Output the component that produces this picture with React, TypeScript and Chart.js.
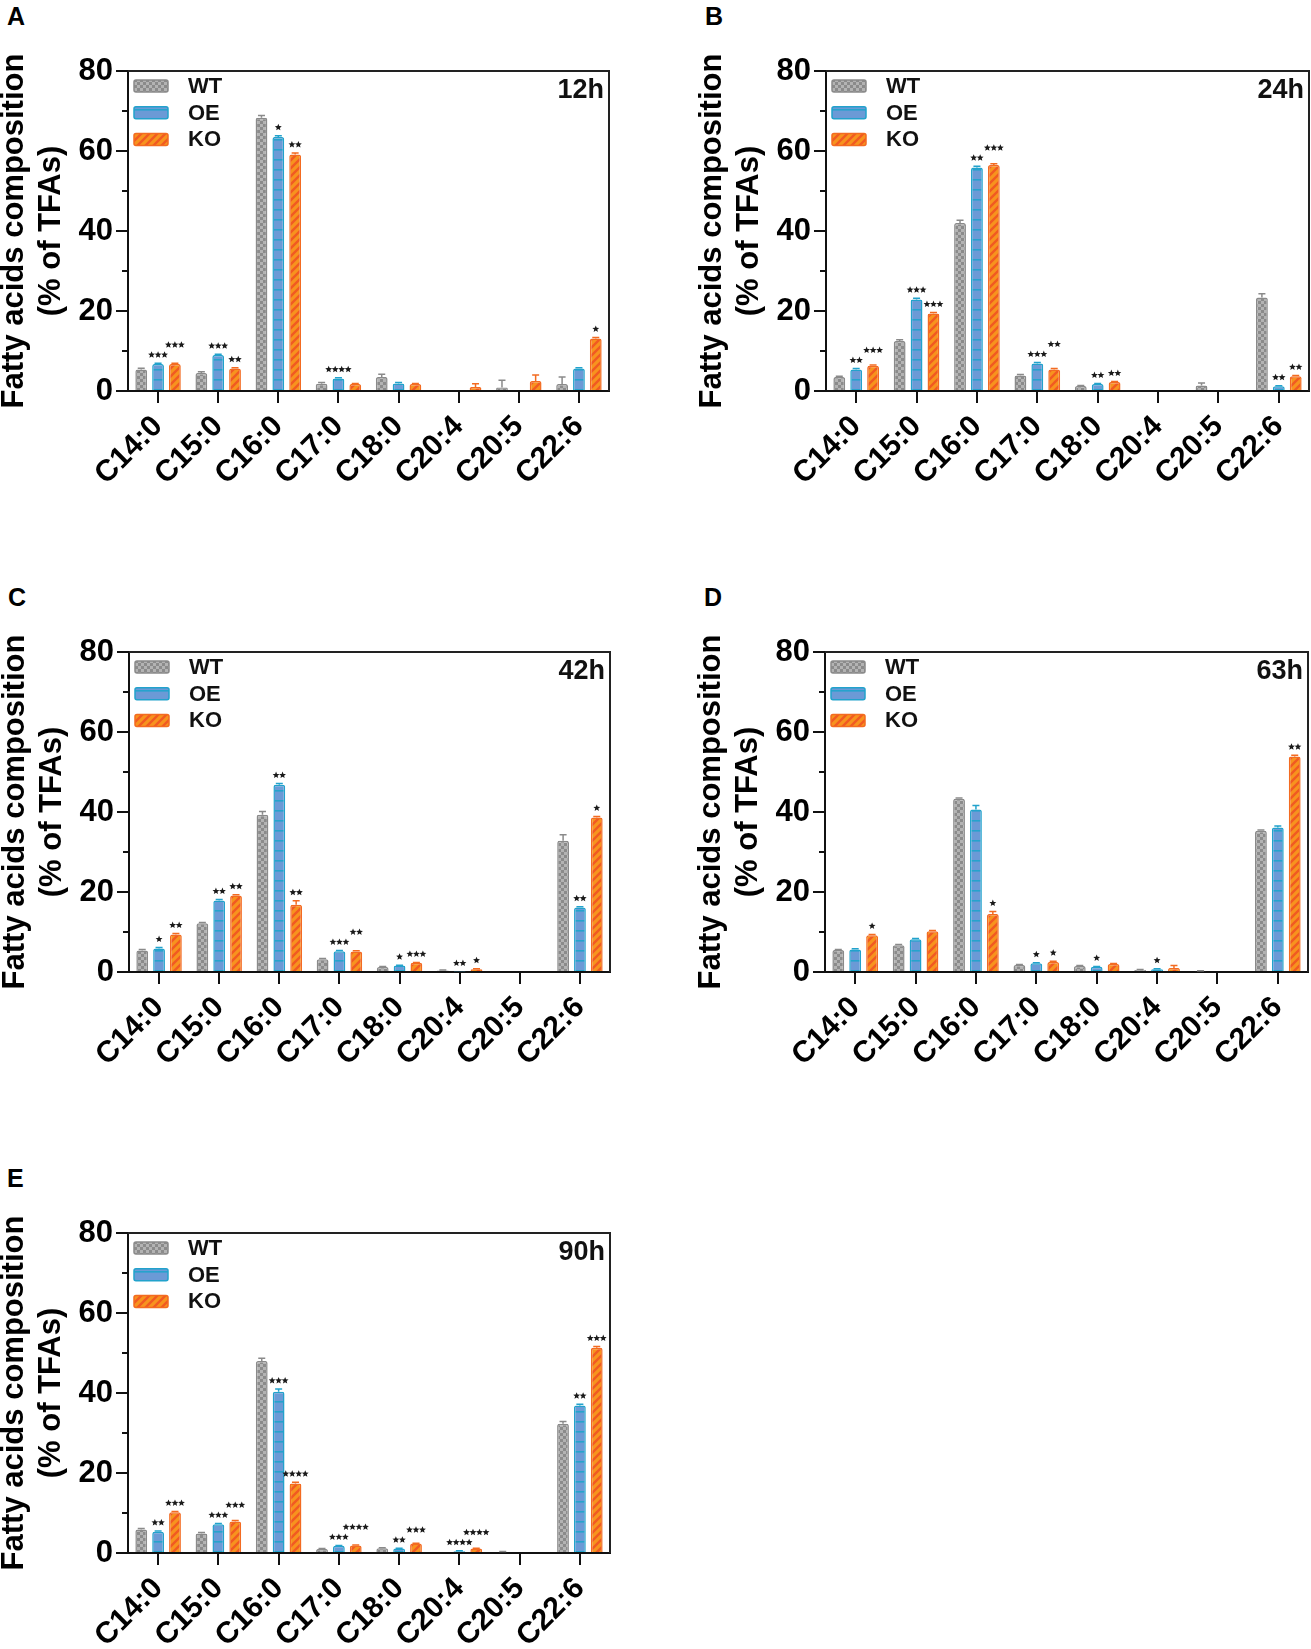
import React, { useEffect, useRef } from 'react';
import { Chart, registerables } from 'chart.js';

Chart.register(...registerables);

const categories = ['C14:0', 'C15:0', 'C16:0', 'C17:0', 'C18:0', 'C20:4', 'C20:5', 'C22:6'];
const seriesNames = ['WT', 'OE', 'KO'];
const yTicks = [0, 20, 40, 60, 80];
const minorTicks = [10, 30, 50, 70];

// 12h
const wt12 = [5.4, 4.5, 68.3, 1.8, 3.5, 0, 0.9, 1.75];
const wt12Err = [0.3, 0.3, 0.6, 0.3, 0.7, 0, 1.8, 1.75];
const oe12 = [6.75, 9.0, 63.5, 3.1, 1.9, 0, 0, 5.6];
const oe12Err = [0.2, 0.2, 0.3, 0.2, 0.2, 0, 0, 0.2];
const ko12 = [6.75, 5.6, 59.1, 1.75, 1.75, 1.0, 2.5, 13.1];
const ko12Err = [0.2, 0.2, 0.4, 0.1, 0.1, 0.8, 1.5, 0.3];
const oe12Stars = ['***', '***', '*', '****', '', '', '', ''];
const ko12Stars = ['***', '**', '**', '', '', '', '', '*'];

// 24h
const wt24 = [3.5, 12.5, 42.0, 3.9, 1.25, 0, 1.4, 23.4];
const wt24Err = [0.2, 0.3, 0.7, 0.2, 0.1, 0, 0.6, 0.9];
const oe24 = [5.4, 22.9, 55.9, 6.9, 1.75, 0, 0, 1.2];
const oe24Err = [0.2, 0.3, 0.3, 0.2, 0.1, 0, 0, 0.1];
const ko24 = [6.3, 19.4, 56.5, 5.4, 2.25, 0, 0, 3.7];
const ko24Err = [0.2, 0.2, 0.3, 0.2, 0.1, 0, 0, 0.2];
const oe24Stars = ['**', '***', '**', '***', '**', '', '', '**'];
const ko24Stars = ['***', '***', '***', '**', '**', '', '', '**'];

// 42h
const wt42 = [5.4, 12.2, 39.3, 3.2, 1.25, 0.4, 0, 32.8];
const wt42Err = [0.2, 0.2, 0.8, 0.2, 0.1, 0.1, 0, 1.5];
const oe42 = [5.9, 17.9, 46.8, 5.2, 1.6, 0.1, 0, 16.1];
const oe42Err = [0.2, 0.2, 0.3, 0.2, 0.1, 0, 0, 0.2];
const ko42 = [9.4, 19.1, 16.8, 5.1, 2.3, 0.7, 0, 38.6];
const ko42Err = [0.2, 0.2, 1.0, 0.2, 0.1, 0.1, 0, 0.3];
const oe42Stars = ['*', '**', '**', '***', '*', '**', '', '**'];
const ko42Stars = ['**', '**', '**', '**', '***', '*', '', '*'];

// 63h
const wt63 = [5.5, 6.7, 43.3, 1.75, 1.5, 0.5, 0.2, 35.3];
const wt63Err = [0.1, 0.2, 0.2, 0.1, 0.1, 0.1, 0.1, 0.2];
const oe63 = [5.6, 8.2, 40.6, 2.2, 1.3, 0.7, 0, 36.1];
const oe63Err = [0.2, 0.2, 1.0, 0.1, 0.1, 0.1, 0, 0.4];
const ko63 = [9.2, 10.2, 14.5, 2.5, 2.0, 1.0, 0, 53.9];
const ko63Err = [0.2, 0.2, 0.6, 0.2, 0.1, 0.6, 0, 0.3];
const oe63Stars = ['', '', '', '*', '*', '*', '', ''];
const ko63Stars = ['*', '', '*', '*', '', '', '', '**'];

// 90h
const wt90 = [5.9, 4.9, 48.0, 1.0, 1.2, 0, 0.25, 32.3];
const wt90Err = [0.2, 0.2, 0.7, 0.1, 0.1, 0, 0.1, 0.6];
const oe90 = [5.3, 7.2, 40.3, 1.8, 1.1, 0.45, 0, 36.9];
const oe90Err = [0.2, 0.2, 0.7, 0.1, 0.1, 0.1, 0, 0.3];
const ko90 = [10.2, 7.9, 17.4, 1.9, 2.35, 1.1, 0, 51.3];
const ko90Err = [0.2, 0.2, 0.3, 0.1, 0.1, 0.1, 0, 0.3];
const oe90Stars = ['**', '***', '***', '***', '**', '****', '', '**'];
const ko90Stars = ['***', '***', '****', '****', '***', '****', '', '***'];

const FONT = '"Liberation Sans", Arial, sans-serif';
const AXIS_W = 132;
const PAD_TOP = 40;
const X_AXIS_H = 130;
const PLOT_H = 320;
const STAR_STEP = 6.5;

function makePattern(kind: string) {
  const c = document.createElement('canvas');
  const ctx = c.getContext('2d')!;
  if (kind === 'WT') {
    c.width = 6; c.height = 6;
    ctx.fillStyle = '#b3b3b3';
    ctx.fillRect(0, 0, 6, 6);
    ctx.fillStyle = '#8b8b8b';
    ctx.fillRect(0, 0, 3, 3);
    ctx.fillRect(3, 3, 3, 3);
  } else if (kind === 'OE') {
    c.width = 10; c.height = 10;
    ctx.fillStyle = '#6b9ad6';
    ctx.fillRect(0, 0, 10, 10);
    ctx.fillStyle = '#26a3cd';
    ctx.fillRect(0, 8, 10, 1.6);
  } else {
    c.width = 8; c.height = 8;
    ctx.fillStyle = '#f7931e';
    ctx.fillRect(0, 0, 8, 8);
    ctx.strokeStyle = '#f15a22';
    ctx.lineWidth = 2.4;
    ctx.beginPath();
    ctx.moveTo(-1, 9); ctx.lineTo(9, -1);
    ctx.moveTo(-5, 5); ctx.lineTo(5, -5);
    ctx.moveTo(3, 13); ctx.lineTo(13, 3);
    ctx.stroke();
  }
  return ctx.createPattern(c, 'repeat')!;
}

const borderColors = ['#8a8a8a', '#22a2cc', '#f36b21'];

function drawStar(ctx: CanvasRenderingContext2D, cx: number, cy: number, r: number) {
  ctx.beginPath();
  for (let k = 0; k < 10; k++) {
    const rr = k % 2 === 0 ? r : r * 0.45;
    const ang = -Math.PI / 2 + (k * Math.PI) / 5;
    const px = cx + rr * Math.cos(ang);
    const py = cy + rr * Math.sin(ang);
    if (k === 0) ctx.moveTo(px, py);
    else ctx.lineTo(px, py);
  }
  ctx.closePath();
  ctx.fill();
}

const decor = {
  id: 'decor',
  afterDatasetsDraw(chart: any, _args: any, opts: any) {
    const { ctx, chartArea: a, scales } = chart;
    const y = scales.y;
    ctx.save();
    // top and right frame
    ctx.strokeStyle = '#222';
    ctx.lineWidth = 2;
    ctx.beginPath();
    ctx.moveTo(a.left, a.top);
    ctx.lineTo(a.right, a.top);
    ctx.lineTo(a.right, a.bottom);
    ctx.stroke();
    // minor ticks
    ctx.strokeStyle = '#111';
    ctx.beginPath();
    minorTicks.forEach((v) => {
      const py = y.getPixelForValue(v);
      ctx.moveTo(a.left - 6, py);
      ctx.lineTo(a.left, py);
    });
    ctx.stroke();

    // error bars, and star groups (lifted when they would collide)
    const placed: { x0: number; x1: number; top: number; bottom: number }[][] = categories.map(() => []);
    chart.data.datasets.forEach((ds: any, di: number) => {
      const meta = chart.getDatasetMeta(di);
      meta.data.forEach((bar: any, i: number) => {
        const v = ds.data[i];
        const e = ds.errors[i] || 0;
        let topPx = y.getPixelForValue(v);
        if (e > 0) {
          const ey = y.getPixelForValue(v + e);
          ctx.strokeStyle = borderColors[di];
          ctx.lineWidth = 1.5;
          ctx.beginPath();
          ctx.moveTo(bar.x, topPx);
          ctx.lineTo(bar.x, ey);
          ctx.moveTo(bar.x - 3.5, ey);
          ctx.lineTo(bar.x + 3.5, ey);
          ctx.stroke();
          topPx = ey;
        }
        const s = ds.stars ? ds.stars[i] : '';
        if (!s) return;
        const n = s.length;
        const w = n * STAR_STEP;
        const x0 = bar.x - w / 2;
        let bottom = topPx - 5;
        placed[i].forEach((b) => {
          const hOverlap = x0 < b.x1 + 2 && x0 + w > b.x0 - 2;
          const vOverlap = bottom > b.top - 2 && bottom - 7 < b.bottom + 2;
          if (hOverlap && vOverlap) bottom = b.top - 3;
        });
        const top = bottom - 7;
        placed[i].push({ x0, x1: x0 + w, top, bottom });
        ctx.fillStyle = '#1a1a1a';
        for (let k = 0; k < n; k++) drawStar(ctx, x0 + STAR_STEP * (k + 0.5), bottom - 3.4, 3.6);
      });
    });

    // legend
    chart.data.datasets.forEach((ds: any, di: number) => {
      const lx = a.left + 6;
      const ly = a.top + 9 + di * 26.7;
      ctx.fillStyle = ds.backgroundColor;
      ctx.strokeStyle = borderColors[di];
      ctx.lineWidth = 1.5;
      ctx.beginPath();
      ctx.roundRect(lx, ly, 34, 12, 2);
      ctx.fill();
      ctx.stroke();
      ctx.fillStyle = '#111';
      ctx.font = `bold 22px ${FONT}`;
      ctx.textAlign = 'left';
      ctx.textBaseline = 'middle';
      ctx.fillText(ds.label, a.left + 60, ly + 7);
    });

    // time label
    ctx.fillStyle = '#111';
    ctx.font = `bold 27px ${FONT}`;
    ctx.textAlign = 'right';
    ctx.textBaseline = 'alphabetic';
    ctx.fillText(opts.time, a.right - 5, a.top + 27);
    ctx.restore();
  },
};

type PanelProps = {
  letter: string;
  time: string;
  left: number;
  right: number;
  top: number;
  wt: number[]; wtErr: number[];
  oe: number[]; oeErr: number[];
  ko: number[]; koErr: number[];
  oeStars: string[]; koStars: string[];
};

function Panel(p: PanelProps) {
  const canvasRef = useRef<HTMLCanvasElement>(null);
  const chartRef = useRef<Chart | null>(null);
  const cLeft = p.left - AXIS_W;
  const cTop = p.top - PAD_TOP;
  const cW = p.right - p.left + AXIS_W + 3;
  const cH = PAD_TOP + PLOT_H + X_AXIS_H;

  useEffect(() => {
    if (!canvasRef.current) return;
    const ctx = canvasRef.current.getContext('2d');
    if (!ctx) return;
    if (chartRef.current) chartRef.current.destroy();

    chartRef.current = new Chart(ctx, {
      type: 'bar',
      data: {
        labels: categories,
        datasets: [
          { label: seriesNames[0], data: p.wt, errors: p.wtErr, stars: null, backgroundColor: makePattern('WT'), borderColor: borderColors[0], borderWidth: 1.5, borderRadius: 2, borderSkipped: 'bottom' },
          { label: seriesNames[1], data: p.oe, errors: p.oeErr, stars: p.oeStars, backgroundColor: makePattern('OE'), borderColor: borderColors[1], borderWidth: 1.5, borderRadius: 2, borderSkipped: 'bottom' },
          { label: seriesNames[2], data: p.ko, errors: p.koErr, stars: p.koStars, backgroundColor: makePattern('KO'), borderColor: borderColors[2], borderWidth: 1.5, borderRadius: 2, borderSkipped: 'bottom' },
        ] as any,
      },
      options: {
        animation: false,
        responsive: false,
        events: [],
        layout: { padding: { top: PAD_TOP, right: 3, left: 0, bottom: 0 } },
        datasets: { bar: { categoryPercentage: 0.84, barPercentage: 0.7 } },
        scales: {
          x: {
            grid: { offset: false, drawOnChartArea: false, tickLength: 12, lineWidth: 2, color: '#111' },
            border: { color: '#111', width: 2 },
            ticks: { autoSkip: false, maxRotation: 45, minRotation: 45, color: '#000', padding: 6, font: { family: FONT, size: 30, weight: 'bold' } },
            afterFit: (s: any) => { s.height = X_AXIS_H; },
          },
          y: {
            min: 0,
            max: 80,
            afterBuildTicks: (s: any) => { s.ticks = yTicks.map((v) => ({ value: v })); },
            grid: { drawOnChartArea: false, tickLength: 12, lineWidth: 2, color: '#111' },
            border: { color: '#111', width: 2 },
            ticks: { color: '#000', padding: 3, font: { family: FONT, size: 31, weight: 'bold' } },
            title: {
              display: true,
              text: ['Fatty acids composition', '(% of TFAs)'],
              color: '#000',
              padding: 0,
              font: { family: FONT, size: 31, weight: 'bold', lineHeight: 1.2 },
            },
            afterFit: (s: any) => { s.width = AXIS_W; },
          },
        },
        plugins: {
          legend: { display: false },
          tooltip: { enabled: false },
          decor: { time: p.time },
        } as any,
      },
      plugins: [decor],
    });

    return () => {
      if (chartRef.current) chartRef.current.destroy();
      chartRef.current = null;
    };
  }, []);

  return (
    <>
      <div style={{ position: 'absolute', left: p.left - 121, top: p.top - 67, fontFamily: FONT, fontWeight: 'bold', fontSize: 25, lineHeight: '25px', color: '#000' }}>{p.letter}</div>
      <canvas ref={canvasRef} width={cW} height={cH} style={{ position: 'absolute', left: cLeft, top: cTop, width: cW, height: cH }} />
    </>
  );
}

export default function App() {
  return (
    <div style={{ position: 'absolute', left: 0, top: 0, width: 1311, height: 1649, overflow: 'hidden', background: '#fff' }}>
      <Panel letter="A" time="12h" left={128} right={609} top={71} wt={wt12} wtErr={wt12Err} oe={oe12} oeErr={oe12Err} ko={ko12} koErr={ko12Err} oeStars={oe12Stars} koStars={ko12Stars} />
      <Panel letter="B" time="24h" left={826} right={1309} top={71} wt={wt24} wtErr={wt24Err} oe={oe24} oeErr={oe24Err} ko={ko24} koErr={ko24Err} oeStars={oe24Stars} koStars={ko24Stars} />
      <Panel letter="C" time="42h" left={129} right={610} top={652} wt={wt42} wtErr={wt42Err} oe={oe42} oeErr={oe42Err} ko={ko42} koErr={ko42Err} oeStars={oe42Stars} koStars={ko42Stars} />
      <Panel letter="D" time="63h" left={825} right={1308} top={652} wt={wt63} wtErr={wt63Err} oe={oe63} oeErr={oe63Err} ko={ko63} koErr={ko63Err} oeStars={oe63Stars} koStars={ko63Stars} />
      <Panel letter="E" time="90h" left={128} right={610} top={1233} wt={wt90} wtErr={wt90Err} oe={oe90} oeErr={oe90Err} ko={ko90} koErr={ko90Err} oeStars={oe90Stars} koStars={ko90Stars} />
    </div>
  );
}
